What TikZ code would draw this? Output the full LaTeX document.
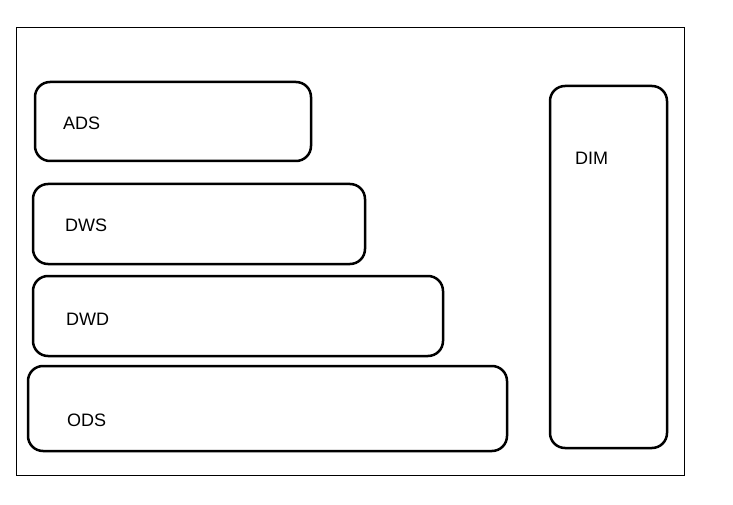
\documentclass[tikz,border=0pt]{standalone}
\usepackage{fontspec}
\setmainfont{Liberation Sans}
\begin{document}
\begin{tikzpicture}[x=1pt,y=-1pt,
  layer/.style={draw=black,line width=2.5pt,rounded corners=15pt,outer sep=0pt,anchor=north west},
  lbl/.style={anchor=west,inner sep=0pt,font=\fontsize{18}{21}\selectfont}]
\useasboundingbox (0,0) rectangle (733,505);
\draw[line width=0.8pt] (16,27) rectangle (684,475);
\node[layer,minimum width=276pt,minimum height=79pt] (ads) at (35,82) {};
\node[layer,minimum width=332pt,minimum height=80pt] (dws) at (33,184) {};
\node[layer,minimum width=410pt,minimum height=80pt] (dwd) at (33,276) {};
\node[layer,minimum width=479pt,minimum height=85pt] (ods) at (28,366) {};
\node[layer,minimum width=117pt,minimum height=362pt] (dim) at (550,86) {};
\node[lbl] (tads) at (63,123) {ADS};
\node[lbl] (tdws) at (65,225) {DWS};
\node[lbl] (tdwd) at (66,319) {DWD};
\node[lbl] (tods) at (67,420) {ODS};
\node[lbl] (tdim) at (575,158) {DIM};
\end{tikzpicture}
\end{document}
